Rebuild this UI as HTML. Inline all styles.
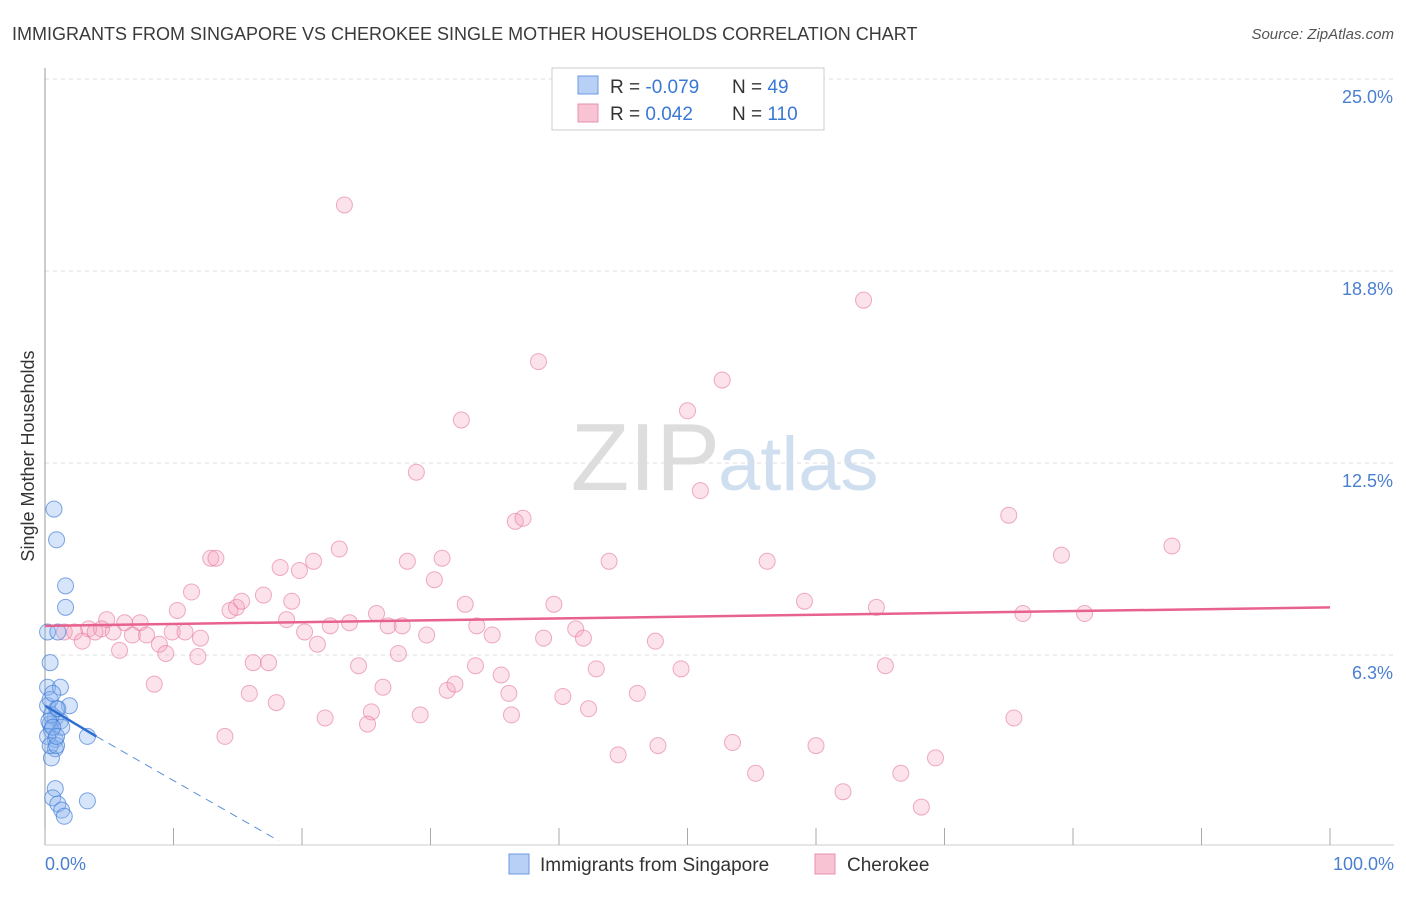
<!DOCTYPE html>
<html><head><meta charset="utf-8"><style>
body{margin:0;background:#fff;font-family:"Liberation Sans",sans-serif}
svg text{font-family:"Liberation Sans",sans-serif}
</style></head><body>
<svg id="c" width="1406" height="892" xmlns="http://www.w3.org/2000/svg">
<text x="12" y="40" font-size="18" fill="#3a3a3a">IMMIGRANTS FROM SINGAPORE VS CHEROKEE SINGLE MOTHER HOUSEHOLDS CORRELATION CHART</text>
<text x="1394" y="39" font-size="15" fill="#555" font-style="italic" text-anchor="end">Source: ZipAtlas.com</text>
<text x="720" y="490" font-size="96" fill="#ddd" text-anchor="end" font-family="Liberation Serif">ZIP</text>
<text x="718" y="490" font-size="76" fill="#cfdff0">atlas</text>
<g id="grid"></g><g id="axes"></g><g id="pts"></g><g id="trend"></g>
<text transform="translate(34,456) rotate(-90)" font-size="18" fill="#333" text-anchor="middle">Single Mother Households</text>
<text x="45" y="870" font-size="18" fill="#4a7fd0">0.0%</text>
<text x="1394" y="870" font-size="18" fill="#4a7fd0" text-anchor="end">100.0%</text>
<g>
<rect x="552" y="68" width="272" height="62" fill="#fff" stroke="#ccc"/>
<rect x="578" y="76" width="20" height="18" fill="#b8d0f5" stroke="#6a9be0"/>
<rect x="578" y="104" width="20" height="18" fill="#f8c4d4" stroke="#e890aa"/>
<text x="610" y="93" font-size="19" fill="#333">R = <tspan fill="#3a78d4">-0.079</tspan></text>
<text x="732" y="93" font-size="19" fill="#333">N = <tspan fill="#3a78d4"> 49</tspan></text>
<text x="610" y="120" font-size="19" fill="#333">R = <tspan fill="#3a78d4"> 0.042</tspan></text>
<text x="732" y="120" font-size="19" fill="#333">N = <tspan fill="#3a78d4">110</tspan></text>
</g>
<g>
<rect x="509" y="854" width="20" height="20" fill="#b8d0f5" stroke="#6a9be0"/>
<text x="540" y="871" font-size="19" fill="#333">Immigrants from Singapore</text>
<rect x="815" y="854" width="20" height="20" fill="#f8c4d4" stroke="#e890aa"/>
<text x="847" y="871" font-size="19" fill="#333">Cherokee</text>
</g>
</svg>
<script>
const yTicks=[6.25,12.5,18.75,25];
const yTickLabels=["6.3%","12.5%","18.8%","25.0%"];
const pinkX=[23.3,63.7,38.4,52.7,50.0,32.4,28.9,51.0,36.6,37.2,75.0,87.7,79.1,22.9,12.9,13.3,20.9,28.2,30.9,43.9,56.2,18.3,19.8,30.3,11.4,17.0,19.2,32.7,39.6,59.1,64.7,10.3,14.4,14.9,15.3,25.8,76.1,80.9,4.8,6.2,7.4,18.8,22.2,23.7,26.7,27.8,33.6,41.3,1.5,3.4,4.4,5.3,6.8,7.9,9.9,10.9,3.9,2.3,20.2,34.8,29.7,38.8,41.9,12.1,47.5,2.9,8.9,21.2,5.8,9.4,11.9,27.5,16.2,17.4,24.4,33.5,42.9,49.5,65.4,35.5,8.5,15.9,26.3,31.3,31.9,36.1,46.1,40.3,18.0,42.3,25.4,21.8,29.2,36.3,75.4,25.1,14.0,53.5,47.7,60.0,44.6,69.3,55.3,66.6,62.1,68.2];
const pinkY=[20.9,17.8,15.8,15.2,14.2,13.9,12.2,11.6,10.6,10.7,10.8,9.8,9.5,9.7,9.4,9.4,9.3,9.3,9.4,9.3,9.3,9.1,9.0,8.7,8.3,8.2,8.0,7.9,7.9,8.0,7.8,7.7,7.7,7.8,8.0,7.6,7.6,7.6,7.4,7.3,7.3,7.4,7.2,7.3,7.2,7.2,7.2,7.1,7.0,7.1,7.1,7.0,6.9,6.9,7.0,7.0,7.0,7.0,7.0,6.9,6.9,6.8,6.8,6.8,6.7,6.7,6.6,6.6,6.4,6.3,6.2,6.3,6.0,6.0,5.9,5.9,5.8,5.8,5.9,5.6,5.3,5.0,5.2,5.1,5.3,5.0,5.0,4.9,4.7,4.5,4.4,4.2,4.3,4.3,4.2,4.0,3.6,3.4,3.3,3.3,3.0,2.9,2.4,2.4,1.8,1.3];
const blueX=[0.7,0.9,1.6,1.6,0.2,1.0,0.4,0.2,1.2,1.9,0.2,0.9,0.8,1.2,0.4,0.5,0.8,1.3,3.3,0.8,0.5,0.8,0.6,1.0,1.3,1.5,3.3,0.4,0.5,0.2,0.4,0.9,0.6,1.0,0.3,0.6,0.9];
const blueY=[11.0,10.0,8.5,7.8,7.0,7.0,6.0,5.2,5.2,4.6,4.6,4.5,4.2,4.1,4.0,3.8,3.5,3.9,3.6,3.2,2.9,1.9,1.6,1.4,1.2,1.0,1.5,4.8,4.3,3.6,3.3,3.3,5.0,4.5,4.1,3.9,3.6];
const pinkTrend=[0,100,7.2,7.8];
const blueTrend=[0,4,4.6,3.6,18.2,0.2];
const X=v=>45+v/100*1285, Y=v=>847-v/6.25*192;
const NS="http://www.w3.org/2000/svg";
function mk(t,a,p){const e=document.createElementNS(NS,t);for(const k in a)e.setAttribute(k,a[k]);document.getElementById(p).appendChild(e);return e;}
yTicks.forEach((t,i)=>{
 const l=mk('line',{x1:45,x2:1394,y1:Y(t),y2:Y(t),stroke:'#ddd','stroke-dasharray':'4,4'},'grid');
 
 
 const tx=mk('text',{x:1393,y:Y(t)+24,'font-size':18,fill:'#4a7fd0','text-anchor':'end'},'grid');
 tx.textContent=yTickLabels[i];
 
 
});
const ax=mk('line',{x1:45,x2:45,y1:68,y2:845,stroke:'#999'},'axes');


const bx=mk('line',{x1:45,x2:1394,y1:845,y2:845,stroke:'#ccc'},'axes');


for(let i=0;i<=10;i++){const t=mk('line',{x1:X(i*10),x2:X(i*10),y1:828,y2:845,stroke:'#aaa'},'axes');
 
 }
pinkX.forEach((x,i)=>{const c=mk('circle',{cx:X(x),cy:Y(pinkY[i]),r:8,fill:'rgba(244,160,188,0.3)',stroke:'rgba(228,120,155,0.6)','stroke-width':1},'pts');
 
 });
blueX.forEach((x,i)=>{const c=mk('circle',{cx:X(x),cy:Y(blueY[i]),r:8,fill:'rgba(140,180,240,0.35)',stroke:'rgba(60,120,210,0.65)','stroke-width':1},'pts');
 
 });
const pt=mk('line',{x1:X(pinkTrend[0]),x2:X(pinkTrend[1]),y1:Y(pinkTrend[2]),y2:Y(pinkTrend[3]),stroke:'#e8628e','stroke-width':2.5},'trend');


const bt=mk('line',{x1:X(blueTrend[0]),x2:X(blueTrend[1]),y1:Y(blueTrend[2]),y2:Y(blueTrend[3]),stroke:'#2e6fd0','stroke-width':2.5},'trend');


const bd=mk('line',{x1:X(blueTrend[1]),x2:X(blueTrend[4]),y1:Y(blueTrend[3]),y2:Y(blueTrend[5]),stroke:'#5a8fd8','stroke-width':1,'stroke-dasharray':'8,6'},'trend');


</script>
</body></html>
